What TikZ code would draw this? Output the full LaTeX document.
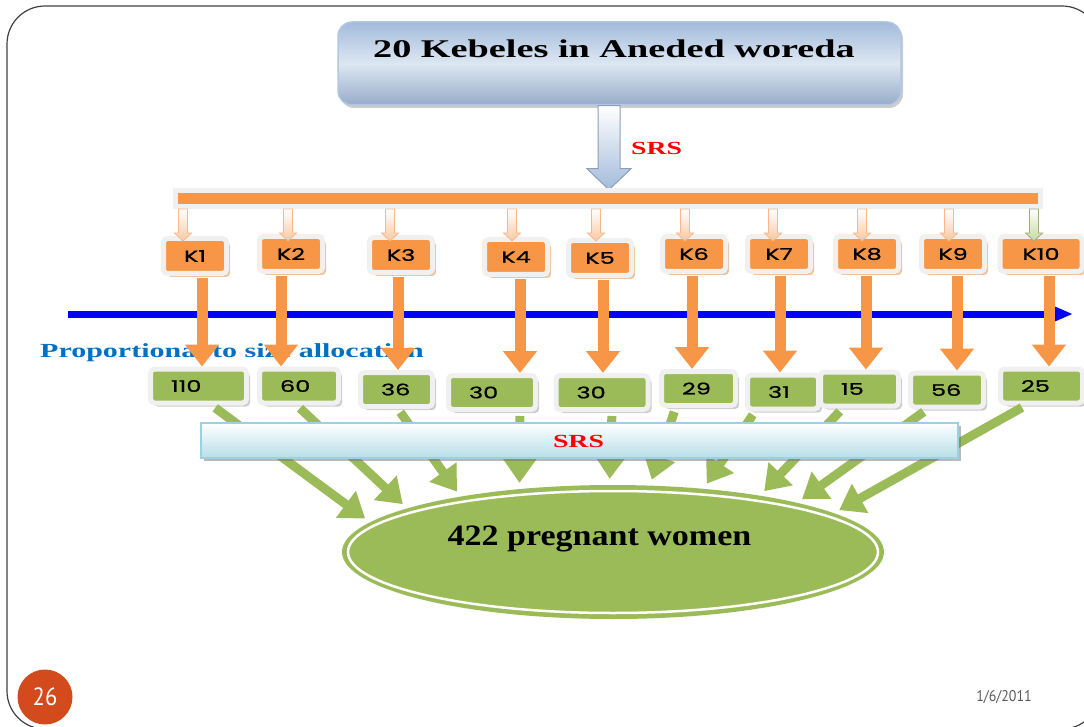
\documentclass[tikz,border=0pt]{standalone}
\usepackage{fontspec}
\setmainfont{Liberation Serif}
\newfontfamily\wideserif[FakeStretch=1.5]{Liberation Serif}
\newfontfamily\ovalserif[FakeStretch=1.15]{Liberation Serif}
\newfontfamily\boxsans[FakeStretch=1.5,FakeBold=1]{Poppins}
\newfontfamily\footsans[FakeStretch=0.9]{PT Sans}
\usetikzlibrary{arrows.meta,shadows,shapes.geometric}

\definecolor{barorange}{HTML}{F79646}
\definecolor{boxgreen}{HTML}{9BBB59}
\definecolor{axisblue}{HTML}{0000FF}
\definecolor{textblue}{HTML}{0070C0}
\definecolor{srsred}{HTML}{FF0000}
\definecolor{titletop}{HTML}{A3BBDB}
\definecolor{titlemid}{HTML}{DDE7F2}
\definecolor{titleedge}{HTML}{B3C7E2}
\definecolor{srsblue}{HTML}{B7DEE8}
\definecolor{srsedge}{HTML}{9CD2DF}
\definecolor{tipfill}{HTML}{FAC8A2}
\definecolor{tipedge}{HTML}{F8B88A}
\definecolor{tipgreen}{HTML}{C6D9A0}
\definecolor{pagered}{HTML}{D34A1C}
\definecolor{frameg}{HTML}{F0F0F0}

\tikzset{
  kbox/.style={rectangle, rounded corners=4pt, fill=barorange, draw=frameg,
    line width=5pt, minimum width=63pt, minimum height=35pt, inner sep=0pt,
    font=\boxsans\fontsize{16}{16}\selectfont,
    drop shadow={shadow xshift=3.5pt, shadow yshift=-3.5pt, fill=brown!70!orange, opacity=.45}},
  nbox/.style={rectangle, rounded corners=4pt, fill=boxgreen, draw=frameg,
    line width=5pt, minimum height=34pt, text width=#1, align=left,
    inner xsep=20.5pt, inner ysep=0pt, font=\boxsans\fontsize{16}{16}\selectfont,
    drop shadow={shadow xshift=3.5pt, shadow yshift=-3.5pt, fill=black!40, opacity=.5}},
  tiparrow/.style={top color=white, bottom color=tipfill, draw=tipedge, line width=.8pt},
  bigarrow/.style={barorange, line width=11pt, -{Triangle[width=33pt,length=22pt]}, shorten <=2.5pt},
  feedarrow/.style={boxgreen, line width=9pt, -{Triangle[width=32pt,length=24pt]}, shorten <=4pt, shorten >=6pt},
  axisarrow/.style={axisblue, line width=7pt, -{Triangle[width=15pt,length=20pt]}},
  srstext/.style={font=\wideserif\bfseries\fontsize{18.5}{18.5}\selectfont, text=srsred, inner sep=0pt}
}

\begin{document}
\begin{tikzpicture}[x=1pt,y=-1pt]
  \path[use as bounding box, clip] (0,0) rectangle (1084,727);
  % slide frame
  \draw[black!75, line width=1.2pt, rounded corners=38pt] (7,6) rectangle (1100,729);

  % title
  \node[rectangle, rounded corners=14pt, minimum width=563pt, minimum height=83pt,
    top color=titletop, bottom color=titletop!92!black, middle color=titlemid,
    draw=titleedge, line width=1.5pt,
    drop shadow={shadow xshift=2pt, shadow yshift=-3pt, fill=black!50, opacity=.4}] (title) at (619.5,63.5) {};
  \node[font=\wideserif\bfseries\fontsize{25.5}{26}\selectfont, anchor=base, inner sep=0pt] (titletext) at (614,58) {20 Kebeles in Aneded woreda};

  \path[top color=white, bottom color=titletop, draw=titleedge!80!black, line width=1pt]
    ([xshift=-21.5pt]title.south) -- ++(22,0) -- ++(0,63) -- ++(11,0) -- ++(-22,21) -- ++(-22,-21) -- ++(11,0) -- cycle;
  \node[srstext, anchor=base west] (srs1) at (631,155) {SRS};

  % bar and kebeles
  \node[rectangle, fill=barorange, draw=frameg, line width=5pt, minimum width=865pt, minimum height=16pt,
    inner sep=0pt] (bar) at (608,198.5) {};

  \node[kbox] (k1) at (195,256) {K1};
  \node[kbox] (k2) at (291,254) {K2};
  \node[kbox] (k3) at (401,255) {K3};
  \node[kbox] (k4) at (516,257) {K4};
  \node[kbox] (k5) at (600,258) {K5};
  \node[kbox] (k6) at (694,254) {K6};
  \node[kbox] (k7) at (779,254) {K7};
  \node[kbox] (k8) at (867,254) {K8};
  \node[kbox] (k9) at (953,254) {K9};
  \node[kbox, minimum width=82pt] (k10) at (1041,254) {K10};

  \foreach \i/\dx in {1/-12,2/-3,3/-11,4/-4,5/-4,6/-9,7/-6,8/-5,9/-4}
    \path[tiparrow] ([xshift=\dx pt]k\i.north |- bar.south) ++(-4.5,0) -- ++(9,0) -- ++(0,24)
      -- ++(4,0) -- ++(-8.5,8) -- ++(-8.5,-8) -- ++(4,0) -- cycle;
  \path[tiparrow, bottom color=tipgreen, draw=tipgreen!80!black] ([xshift=-7pt]k10.north |- bar.south) ++(-4.5,0)
    -- ++(9,0) -- ++(0,24) -- ++(4,0) -- ++(-8.5,8) -- ++(-8.5,-8) -- ++(4,0) -- cycle;

  % allocation axis
  \coordinate (axisL) at (68,314);
  \coordinate (axisR) at (1073,314);
  \draw[axisarrow] (axisL) -- (axisR);
  \node[font=\wideserif\bfseries\fontsize{20}{20}\selectfont, text=textblue, anchor=base west,
    inner sep=0pt] (ptsa) at (40,357) {Proportional to size allocation};

  % sample sizes
  \node[nbox=55pt] (g1) at (198.5,386) {110};
  \node[nbox=38pt] (g2) at (299,386) {60};
  \node[nbox=31pt] (g3) at (396.5,389.5) {36};
  \node[nbox=46pt] (g4) at (492,392.5) {30};
  \node[nbox=51pt] (g5) at (602,392.5) {30};
  \node[nbox=33pt] (g6) at (698.5,388.5) {29};
  \node[nbox=30pt] (g7) at (783,392) {31};
  \node[nbox=37pt] (g8) at (859.5,389) {15};
  \node[nbox=32pt] (g9) at (947,390) {56};
  \node[nbox=41pt] (g10) at (1041.5,386) {25};

  \foreach \i/\dx in {1/7,2/-10,3/-3,4/4,5/3,6/-2,7/1,8/-1,9/4,10/8}
    \draw[bigarrow] ([xshift=\dx pt]k\i.south) -- ([xshift=\dx pt]k\i.south |- g\i.north);

  % total sample
  \node[ellipse, fill=boxgreen, minimum width=542pt, minimum height=134pt, inner sep=0pt] (ell) at (613,552) {};
  \draw[white, line width=2.5pt] (ell.center) ellipse [x radius=265, y radius=61];
  \node[font=\ovalserif\bfseries\fontsize{29.6}{30}\selectfont, anchor=base, inner sep=0pt] (women) at (599.5,545) {422 pregnant women};

  \foreach \i/\dx/\ang in {1/13.5/173,2/-2/168,3/1.5/160,4/28/146,5/10/93,6/-23/61,7/-28/35,8/-17/21,9/-20/15,10/-16/10}
    \draw[feedarrow] ([xshift=\dx pt]g\i.south) -- (ell.\ang);

  \node[rectangle, minimum width=757pt, minimum height=35pt, top color=white, bottom color=srsblue,
    draw=srsedge, line width=1.5pt,
    drop shadow={shadow xshift=3pt, shadow yshift=-3pt, fill=black!55, opacity=.5}] (srsbar) at (579.5,440.5) {};
  \node[srstext] (srs2) at (578.5,441) {SRS};

  % footer
  \node[circle, fill=pagered, minimum size=55pt, inner sep=0pt, text=white,
    font=\footsans\fontsize{25}{25}\selectfont] (pageno) at (45,697) {26};
  \node[font=\footsans\fontsize{15.5}{15.5}\selectfont, text=black!65] (date) at (1004,697) {1/6/2011};
\end{tikzpicture}
\end{document}
